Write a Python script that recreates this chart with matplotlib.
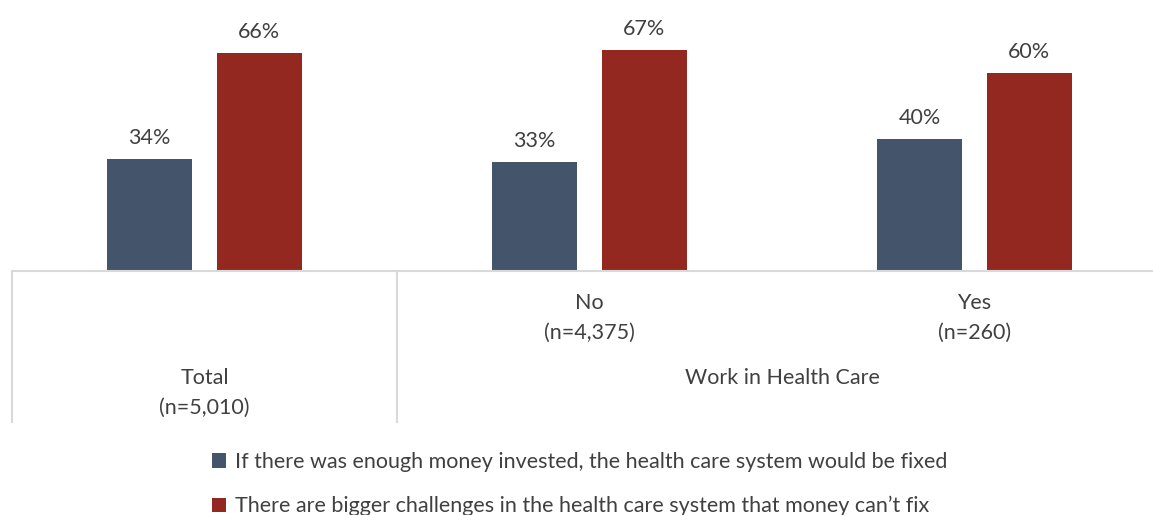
import matplotlib.pyplot as plt
import numpy as np
from matplotlib.transforms import blended_transform_factory

plt.rcParams['font.family'] = ['Lato', 'DejaVu Sans']

groups = ["Total", "No", "Yes"]
group_n = ["(n=5,010)", "(n=4,375)", "(n=260)"]
money_fix = [34, 33, 40]
bigger_challenges = [66, 67, 60]
series_names = ["If there was enough money invested, the health care system would be fixed",
                "There are bigger challenges in the health care system that money can\u2019t fix"]

blue = "#44546A"
red = "#922820"
grid = "#D9D9D9"
txt = "#404040"
fs = 15.5

fig = plt.figure(figsize=(11.53, 5.15), dpi=100)
ax = fig.add_axes([12 / 1153, 244 / 515, 1155 / 1153, 247.5 / 515])

x = np.arange(len(groups))
w = 0.22
b1 = ax.bar(x - 0.143, money_fix, w, color=blue, label=series_names[0])
b2 = ax.bar(x + 0.142, bigger_challenges, w, color=red, label=series_names[1])
for bars in (b1, b2):
    ax.bar_label(bars, labels=[f"{v}%" for v in bars.datavalues], padding=8,
                 fontsize=fs, color=txt)

ax.set_xlim(-0.5, 2.5)
ax.set_ylim(0, 75)
ax.set_yticks([])
ax.set_xticks([])
for s in ("top", "right", "left"):
    ax.spines[s].set_visible(False)
ax.spines["bottom"].set_color(grid)
ax.spines["bottom"].set_linewidth(1.5)

# two-level category axis
tr = blended_transform_factory(ax.transData, ax.transAxes)
rows = {0: (-0.4323, -0.5535), 1: (-0.1293, -0.2505), 2: (-0.1293, -0.2505)}
for i in x:
    y1, y2 = rows[i]
    ax.text(i, y1, groups[i], transform=tr, ha="center", va="center", fontsize=fs, color=txt)
    ax.text(i, y2, group_n[i], transform=tr, ha="center", va="center", fontsize=fs, color=txt)
ax.text(1.5, -0.4323, "Work in Health Care", transform=tr, ha="center", va="center",
        fontsize=fs, color=txt)
for xv in (-0.5, 0.5):
    ax.plot([xv, xv], [0, -0.61], transform=tr, color=grid, lw=1.5, clip_on=False)

fig.legend(handles=[b1, b2], loc="upper left", bbox_to_anchor=(212 / 1153, 1 - 452 / 515),
           frameon=False, fontsize=fs, handlelength=0.65, handleheight=0.65,
           handletextpad=0.4, labelspacing=1.12, borderaxespad=0, borderpad=0,
           labelcolor=txt)

fig.savefig("out.png", dpi=100)
